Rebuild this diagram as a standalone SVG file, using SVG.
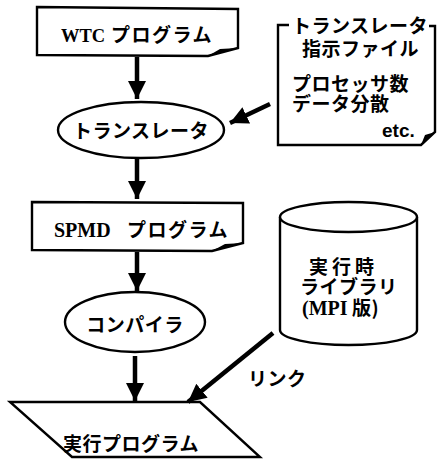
<svg xmlns="http://www.w3.org/2000/svg" width="443" height="461" viewBox="0 0 443 461">
<defs>
<marker id="ah" markerUnits="userSpaceOnUse" markerWidth="20" markerHeight="20" viewBox="0 0 20 20" refX="18" refY="10" orient="auto">
<path d="M0,1 L18,10 L0,19 Z" fill="#000"/>
</marker>
<style>
.sh{fill:#fff;stroke:#000;stroke-width:2.4;stroke-linejoin:miter}
.ln{fill:none;stroke:#000;stroke-width:2.4}
.ar{fill:none;stroke:#000;stroke-width:4.5;marker-end:url(#ah)}
.jp{font-family:"Noto Sans CJK JP","Noto Sans",sans-serif;font-weight:bold;font-size:19px;fill:#000;letter-spacing:0.5px}
.lat{font-family:"Liberation Serif","Noto Sans CJK JP",serif;font-weight:bold;font-size:19px;fill:#000}
.etc{font-family:"Liberation Sans",sans-serif;font-weight:bold;font-size:19px;fill:#000}
</style>
</defs>
<rect width="443" height="461" fill="#fff"/>
<g id="wtc">
<path class="sh" d="M37,7 L238,9 L238,48 L208,56 L37,55 Z"/>
<path d="M208,56 L238,48 L220,49 Z" fill="#000"/>
<text x="61" y="42" xml:space="preserve"><tspan class="lat" style="font-size:18.5px">WTC </tspan><tspan class="jp" x="111" y="42" style="letter-spacing:1.5px">プログラム</tspan></text>
</g>
<g id="directive">
<path class="ln" d="M289,25 H278 V145 H421 L435,132 V26 H429"/>
<path d="M421,145 L435,132 L425,135 Z" fill="#000"/>
<text class="jp" x="292" y="33">トランスレータ</text>
<text class="jp" x="302" y="56">指示ファイル</text>
<text class="jp" x="292" y="91">プロセッサ数</text>
<text class="jp" x="292" y="111">データ分散</text>
<text class="etc" x="382" y="137">etc.</text>
</g>
<g id="translator">
<ellipse class="sh" cx="141" cy="130" rx="83" ry="28"/>
<text class="jp" x="141" y="138" text-anchor="middle">トランスレータ</text>
</g>
<g id="spmd">
<path class="sh" d="M32,202 L243,203 L243,243 L212,251 L32,250 Z"/>
<path d="M212,251 L243,243 L225,244 Z" fill="#000"/>
<text x="54" y="237" xml:space="preserve"><tspan class="lat" style="font-size:20px">SPMD </tspan><tspan class="jp" x="127" y="237" style="letter-spacing:1.5px">プログラム</tspan></text>
</g>
<g id="compiler">
<ellipse class="sh" cx="135" cy="322" rx="70" ry="30"/>
<text class="jp" x="135" y="332" text-anchor="middle">コンパイラ</text>
</g>
<g id="runtime">
<path class="sh" d="M280,217 V330 A68.5,15 0 0 0 417,330 V217"/>
<ellipse class="sh" cx="348.5" cy="217" rx="68.5" ry="15"/>
<text class="jp" x="309" y="274" style="letter-spacing:4px">実行時</text>
<text class="jp" x="300" y="294">ライブラリ</text>
<text x="302" y="315" xml:space="preserve"><tspan class="lat" style="font-size:20px">(MPI </tspan><tspan class="jp" x="352" y="315">版)</tspan></text>
</g>
<g id="exec">
<path class="sh" d="M10,402 L200,402 L260,457 L72,457 Z"/>
<text class="jp" x="63" y="451">実行プログラム</text>
</g>
<g id="connectors">
<line class="ar" x1="137" y1="57" x2="137" y2="99"/>
<line class="ar" x1="270" y1="104" x2="230" y2="123"/>
<line class="ar" x1="137" y1="158" x2="137" y2="199"/>
<line class="ar" x1="137" y1="252" x2="137" y2="291"/>
<line class="ar" x1="135" y1="356" x2="135" y2="401"/>
<line class="ar" x1="273" y1="333" x2="188" y2="402"/>
<text class="jp" x="248" y="386">リンク</text>
</g>
</svg>
